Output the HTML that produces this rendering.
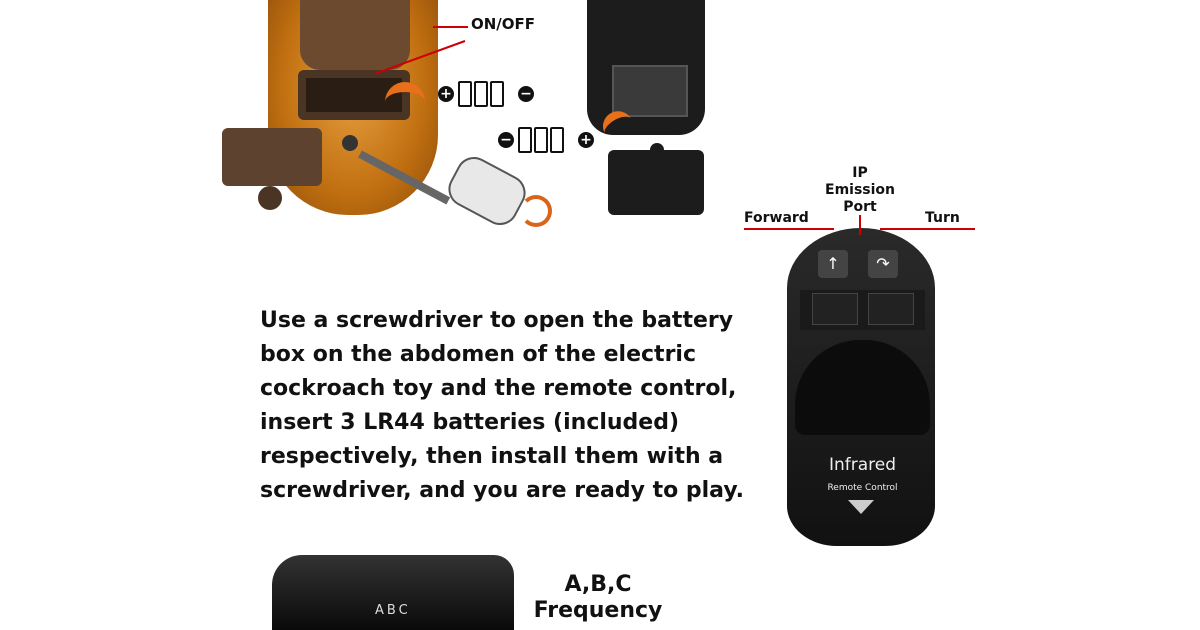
<!DOCTYPE html>
<html><head><style>
body{margin:0;width:1200px;height:630px;background:#fff;position:relative;overflow:hidden;font-family:"DejaVu Sans","Liberation Sans",sans-serif}
.a{position:absolute}
.t{font-weight:bold;color:#111}
.c{position:absolute;width:16px;height:16px;border-radius:50%;background:#111;color:#fff;font-size:14px;line-height:16px;text-align:center;font-weight:bold}
.b{position:absolute;width:10px;height:22px;border:2px solid #111;border-radius:2px;background:#fff}
</style></head><body>
<div class="a" style="left:268px;top:0;width:170px;height:215px;background:radial-gradient(ellipse at 50% 40%,#e8a040,#c06f10 60%,#8a4a0a);border-radius:0 0 80px 80px"></div>
<div class="a" style="left:300px;top:0;width:110px;height:70px;background:#6b4a30;border-radius:0 0 20px 20px"></div>
<div class="a" style="left:298px;top:70px;width:112px;height:50px;background:#4a3424;border-radius:6px"></div>
<div class="a" style="left:306px;top:78px;width:96px;height:34px;background:#2a1e14"></div>
<div class="a" style="left:222px;top:128px;width:100px;height:58px;background:#5e4230;border-radius:6px"></div>
<div class="a" style="left:258px;top:186px;width:24px;height:24px;background:#4a3424;border-radius:50%"></div>
<div class="a" style="left:342px;top:135px;width:16px;height:16px;background:#333;border-radius:50%"></div>
<div class="a" style="left:360px;top:150px;width:100px;height:8px;background:#666;transform:rotate(28deg);transform-origin:left"></div>
<div class="a" style="left:450px;top:165px;width:70px;height:48px;background:#e8e8e8;border:2px solid #555;border-radius:18px;transform:rotate(28deg)"></div>
<div class="a" style="left:520px;top:195px;width:24px;height:24px;border:4px solid #d8651a;border-radius:50%;border-left-color:transparent"></div>
<div class="a" style="left:385px;top:82px;width:40px;height:24px;border-top:10px solid #e8701a;border-radius:30px 30px 0 0"></div>
<div class="a t" style="left:471px;top:15px;font-size:15px">ON/OFF</div>
<div class="a" style="left:375px;top:40px;width:95px;height:2px;background:#c00;transform:rotate(-20deg);transform-origin:right;left:370px"></div>
<div class="a" style="left:433px;top:26px;width:35px;height:2px;background:#c00"></div>
<div class="c" style="left:438px;top:86px">+</div>
<div class="b" style="left:458px;top:81px"></div><div class="b" style="left:474px;top:81px"></div><div class="b" style="left:490px;top:81px"></div>
<div class="c" style="left:518px;top:86px">−</div>
<div class="c" style="left:498px;top:132px">−</div>
<div class="b" style="left:518px;top:127px"></div><div class="b" style="left:534px;top:127px"></div><div class="b" style="left:550px;top:127px"></div>
<div class="c" style="left:578px;top:132px">+</div>
<div class="a" style="left:587px;top:0;width:118px;height:135px;background:#1c1c1c;border-radius:0 0 26px 26px"></div>
<div class="a" style="left:612px;top:65px;width:72px;height:48px;background:#3a3a3a;border:2px solid #555"></div>
<div class="a" style="left:600px;top:112px;width:30px;height:10px;border-top:8px solid #e8701a;border-radius:20px 20px 0 0;transform:rotate(-30deg)"></div>
<div class="a" style="left:608px;top:150px;width:96px;height:65px;background:#1c1c1c;border-radius:6px"></div>
<div class="a" style="left:650px;top:143px;width:14px;height:14px;background:#1c1c1c;border-radius:50%"></div>
<div class="a" style="left:787px;top:228px;width:148px;height:318px;background:linear-gradient(#2a2a2a,#111);border-radius:74px 74px 50px 50px / 60px 60px 40px 40px"></div>
<div class="a" style="left:800px;top:290px;width:125px;height:40px;background:#1a1a1a"></div>
<div class="a" style="left:812px;top:293px;width:44px;height:30px;background:#222;border:1px solid #444"></div>
<div class="a" style="left:868px;top:293px;width:44px;height:30px;background:#222;border:1px solid #444"></div>
<div class="a" style="left:818px;top:250px;width:30px;height:28px;background:#444;border-radius:4px;color:#fff;text-align:center;line-height:28px;font-size:16px">↑</div>
<div class="a" style="left:868px;top:250px;width:30px;height:28px;background:#444;border-radius:4px;color:#fff;text-align:center;line-height:28px;font-size:16px">↷</div>
<div class="a" style="left:795px;top:340px;width:135px;height:95px;background:#0c0c0c;border-radius:65px 65px 10px 10px"></div>
<div class="a" style="left:800px;top:455px;width:125px;height:50px;color:#eee;text-align:center;font-size:17px;line-height:20px">Infrared<br><span style="font-size:9px">Remote Control</span></div>
<div class="a" style="left:848px;top:500px;width:0;height:0;border-left:13px solid transparent;border-right:13px solid transparent;border-top:14px solid #ccc"></div>
<div class="a t" style="left:815px;top:165px;width:90px;text-align:center;font-size:14px;line-height:17px">IP<br>Emission<br>Port</div>
<div class="a t" style="left:744px;top:210px;font-size:14px">Forward</div>
<div class="a t" style="left:925px;top:210px;font-size:14px">Turn</div>
<div class="a" style="left:744px;top:228px;width:90px;height:2px;background:#c00"></div>
<div class="a" style="left:880px;top:228px;width:95px;height:2px;background:#c00"></div>
<div class="a" style="left:859px;top:215px;width:2px;height:20px;background:#c00"></div>
<div class="a t" style="left:260px;top:304px;font-size:22px;line-height:34px;letter-spacing:0;white-space:nowrap">Use a screwdriver to open the battery<br>box on the abdomen of the electric<br>cockroach toy and the remote control,<br>insert 3 LR44 batteries (included)<br>respectively, then install them with a<br>screwdriver, and you are ready to play.</div>
<div class="a" style="left:272px;top:555px;width:242px;height:75px;background:linear-gradient(#333,#0a0a0a);border-radius:30px 20px 0 0"></div>
<div class="a" style="left:375px;top:603px;color:#ddd;font-size:13px;letter-spacing:3px">ABC</div>
<div class="a t" style="left:533px;top:572px;width:130px;text-align:center;font-size:22px;line-height:26px">A,B,C<br>Frequency</div>
</body></html>
